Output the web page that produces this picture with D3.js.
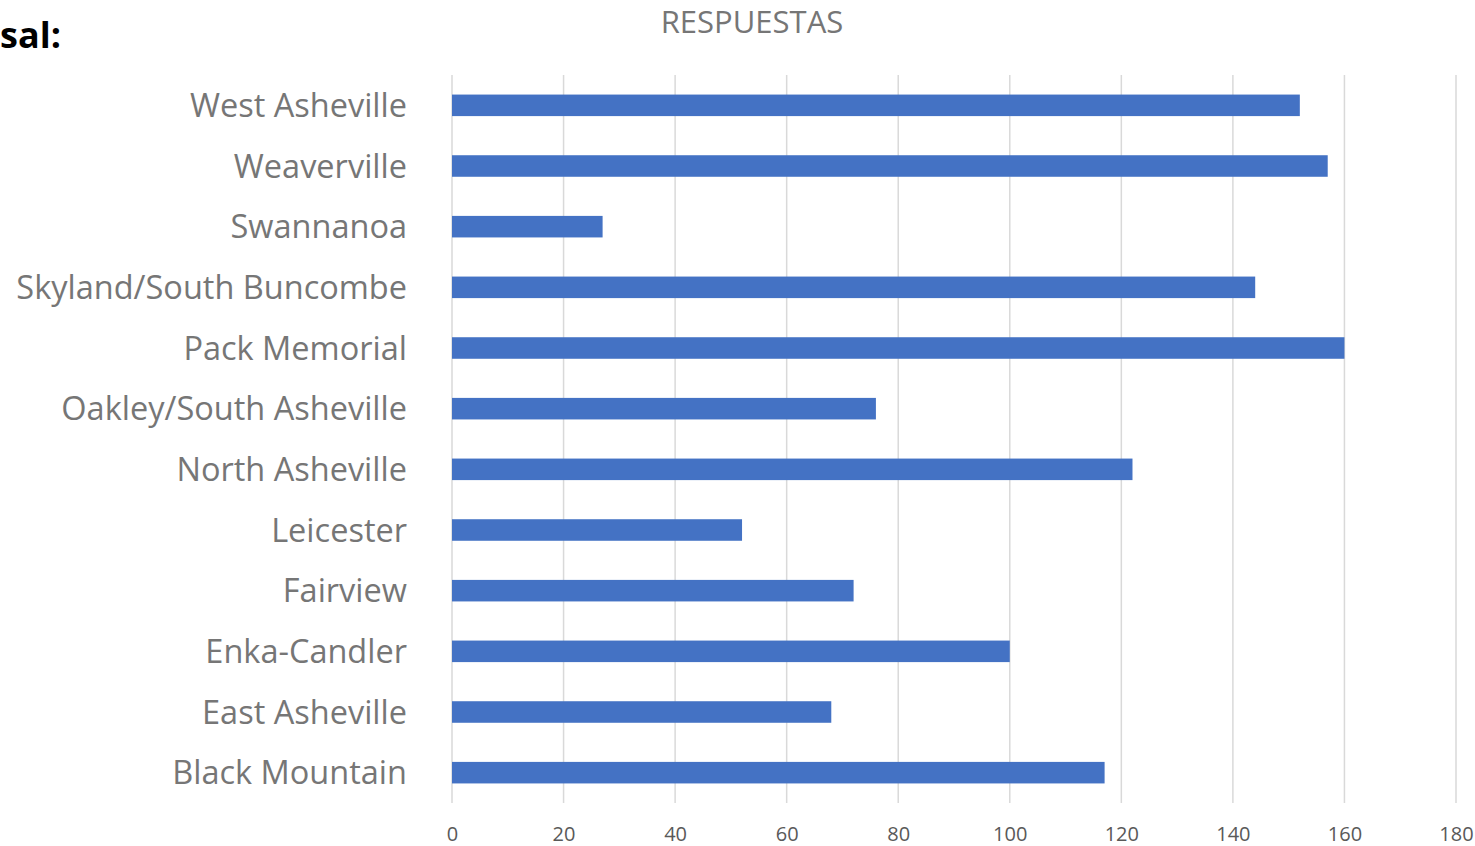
<!DOCTYPE html>
<html>
<head>
  <meta charset="utf-8">
  <script src="https://d3js.org/d3.v7.min.js"></script>
  <style>
    body { margin: 0; background: #fff; }
    text { font-family: "Open Sans", "Noto Sans", sans-serif; }
  </style>
</head>
<body>
<script>
  // categories from top to bottom, as in the chart
  var categories = ["West Asheville", "Weaverville", "Swannanoa", "Skyland/South Buncombe",
    "Pack Memorial", "Oakley/South Asheville", "North Asheville", "Leicester",
    "Fairview", "Enka-Candler", "East Asheville", "Black Mountain"];
  var respuestas = [152, 157, 27, 144, 160, 76, 122, 52, 72, 100, 68, 117];
  var xTicks = [0, 20, 40, 60, 80, 100, 120, 140, 160, 180];

  var width = 1475, height = 846;
  var plotLeft = 452, plotRight = 1456, plotTop = 75, plotBottom = 803;

  var svg = d3.select("body").append("svg")
    .attr("width", width)
    .attr("height", height);

  var x = d3.scaleLinear().domain([0, 180]).range([plotLeft, plotRight]);
  var y = d3.scaleBand().domain(categories).range([plotTop, plotBottom])
    .paddingInner(0.645).paddingOuter(0.3225);

  // gridlines
  svg.append("g")
    .selectAll("line")
    .data(xTicks)
    .enter()
    .append("line")
    .attr("x1", function(d) { return x(d); })
    .attr("x2", function(d) { return x(d); })
    .attr("y1", plotTop)
    .attr("y2", plotBottom)
    .style("stroke", "#d9d9d9")
    .style("stroke-width", 1.5);

  // bars
  svg.append("g")
    .selectAll("rect")
    .data(respuestas)
    .enter()
    .append("rect")
    .attr("x", x(0))
    .attr("y", function(d, i) { return y(categories[i]); })
    .attr("width", function(d) { return x(d) - x(0); })
    .attr("height", y.bandwidth())
    .style("fill", "#4472c4");

  // x axis labels
  var xAxis = d3.axisBottom(x).tickValues(xTicks).tickSize(0).tickPadding(0);
  var gx = svg.append("g").attr("transform", "translate(0,841)").call(xAxis);
  gx.select(".domain").remove();
  gx.selectAll("text")
    .attr("dy", 0)
    .style("font-size", "20px")
    .style("font-family", "'Open Sans', sans-serif")
    .style("fill", "#595959");

  // category labels
  var yAxis = d3.axisLeft(y).tickSize(0).tickPadding(0);
  var gy = svg.append("g").attr("transform", "translate(407,0)").call(yAxis);
  gy.select(".domain").remove();
  gy.selectAll("text")
    .attr("dy", "0.36em")
    .style("font-size", "32.5px")
    .style("font-family", "'Open Sans', sans-serif")
    .style("fill", "#767676");

  // title
  svg.append("text")
    .attr("x", 752)
    .attr("y", 33)
    .attr("text-anchor", "middle")
    .style("font-size", "31px")
    .style("fill", "#767676")
    .text("RESPUESTAS");

  // cut-off heading text at top left
  svg.append("text")
    .attr("x", 0)
    .attr("y", 48)
    .style("font-size", "36px")
    .style("font-weight", "bold")
    .style("fill", "#000")
    .text("sal:");
</script>
</body>
</html>
